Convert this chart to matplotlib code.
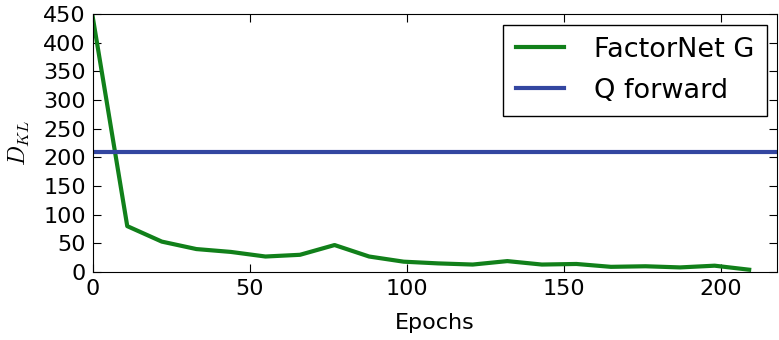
import numpy as np
import matplotlib.pyplot as plt

plt.rcParams['mathtext.fontset'] = 'cm'

# data
epochs = [0, 11, 22, 33, 44, 55, 66, 77, 88, 99, 110, 121, 132, 143, 154, 165, 176, 187, 198, 209]
factornet_g = [445, 80, 53, 40, 35, 27, 30, 47, 27, 18, 15, 13, 19, 13, 14, 9, 10, 8, 11, 4]
q_forward = 209

fig = plt.figure(figsize=(7.79, 3.4), dpi=100)
ax = fig.add_axes([0.119, 0.2, 0.879, 0.759])

ax.plot(epochs, factornet_g, color='#11801a', lw=3, label='FactorNet G')
ax.axhline(q_forward, color='#3346a0', lw=3, label='Q forward')

ax.set_xlim(0, 218)
ax.set_ylim(0, 450)
ax.set_xticks([0, 50, 100, 150, 200])
ax.set_yticks(np.arange(0, 451, 50))
ax.tick_params(direction='in', top=True, right=True, labelsize=16, length=6, pad=5)
ax.set_xlabel('Epochs', fontsize=16, labelpad=10)
ax.set_ylabel(r'$D_{KL}$', fontsize=17, labelpad=8)

leg = ax.legend(loc='upper right', fontsize=19.5, fancybox=False, framealpha=1,
                edgecolor='black', handlelength=1.8, handletextpad=1.1,
                borderpad=0.45, borderaxespad=0.4, labelspacing=0.55)
leg.get_frame().set_linewidth(1)

fig.savefig('out.png', dpi=100)
